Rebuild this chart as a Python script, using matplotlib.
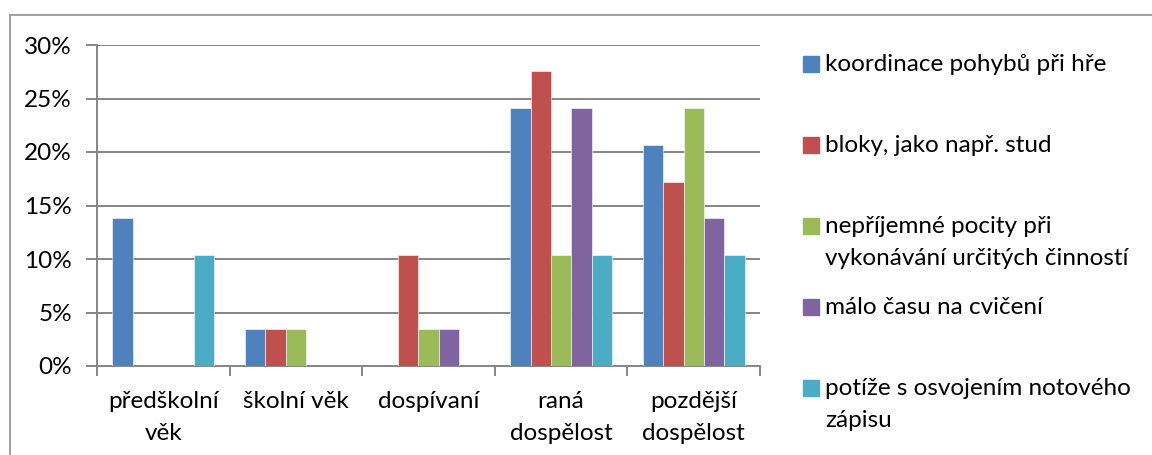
import matplotlib
matplotlib.use("Agg")
import matplotlib.pyplot as plt
import matplotlib.transforms as mtransforms
from matplotlib.patches import Rectangle
import numpy as np

plt.rcParams['font.family'] = ['Lato', 'DejaVu Sans']

categories = [["předškolní", "věk"], ["školní věk"], ["dospívaní"], ["raná", "dospělost"], ["pozdější", "dospělost"]]
series_names = [
    ["koordinace pohybů při hře"],
    ["bloky, jako např. stud"],
    ["nepříjemné pocity při", "vykonávání určitých činností"],
    ["málo času na cvičení"],
    ["potíže s osvojením notového", "zápisu"],
]
koordinace = [13.8, 3.45, 0.0, 24.14, 20.69]
bloky = [0.0, 3.45, 10.34, 27.59, 17.24]
neprijemne = [0.0, 3.45, 3.45, 10.34, 24.14]
malo_casu = [0.0, 0.0, 3.45, 24.14, 13.79]
potize = [10.34, 0.0, 0.0, 10.34, 10.34]
series = [koordinace, bloky, neprijemne, malo_casu, potize]
colors = ["#4F81BD", "#C0504D", "#9BBB59", "#8064A2", "#4BACC6"]
y_ticks = [0, 5, 10, 15, 20, 25, 30]

W, H = 1152, 455
FS = 17.5
fig = plt.figure(figsize=(W / 100, H / 100), dpi=100)
ax = fig.add_axes([97 / W, 1 - 366 / H, (760 - 97) / W, (366 - 45) / H])

grey = "#868686"
n = len(series)
bw = 1 / (n + 1.5)
x = np.arange(len(categories))
for i, (vals, col) in enumerate(zip(series, colors)):
    offs = (i - (n - 1) / 2) * bw
    ax.bar(x + offs, vals, width=bw, color=col, edgecolor="white", linewidth=0.4, zorder=3)

ax.set_xlim(-0.5, len(categories) - 0.5)
ax.set_ylim(0, 30)
ax.set_yticks(y_ticks)
ax.set_yticklabels([f"{v}%" for v in y_ticks], fontsize=FS)
ax.yaxis.grid(True, color=grey, linewidth=1.4, zorder=0)
ax.tick_params(axis="y", length=8, width=1.4, color=grey, pad=10)

# category boundaries carry the x ticks
ax.set_xticks(np.arange(-0.5, len(categories), 1.0))
ax.set_xticklabels([""] * (len(categories) + 1))
ax.tick_params(axis="x", length=7, width=1.4, color=grey)

# category names, one text per line, placed by baseline in pixels
tr = mtransforms.blended_transform_factory(ax.transData, fig.transFigure)
for xi, lines in zip(x, categories):
    for j, line in enumerate(lines):
        ax.text(xi, 1 - (408 + 32 * j) / H, line, transform=tr, fontsize=FS,
                ha="center", va="baseline")

for s in ["top", "right"]:
    ax.spines[s].set_visible(False)
for s in ["left", "bottom"]:
    ax.spines[s].set_color(grey)
    ax.spines[s].set_linewidth(1.4)

# outer chart frame
fig.patches.append(Rectangle((10 / W, -0.1), 1.2, 1 - 15 / H + 0.1, transform=fig.transFigure,
                             fill=False, edgecolor="#A0A0A0", linewidth=1.4))

# legend
sq = 16
for k, (lines, col) in enumerate(zip(series_names, colors)):
    base = 71 + 81 * k
    fig.patches.append(Rectangle((803 / W, 1 - (base + 1) / H), sq / W, sq / H,
                                 transform=fig.transFigure, color=col))
    for j, line in enumerate(lines):
        fig.text(825 / W, 1 - (base + 32 * j) / H, line, fontsize=FS,
                 va="baseline", ha="left")

fig.savefig("out.png", dpi=100)
